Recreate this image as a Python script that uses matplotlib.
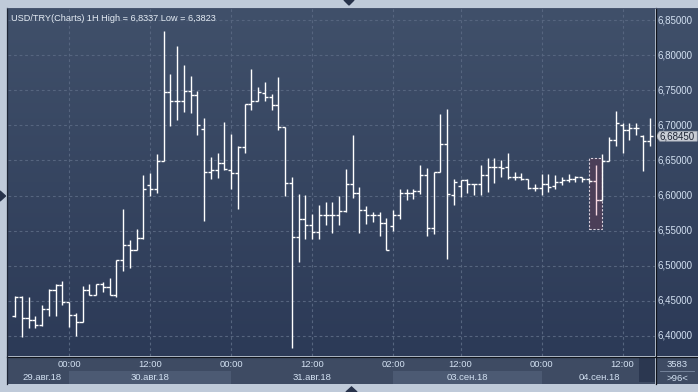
import matplotlib
matplotlib.use('Agg')
import matplotlib.pyplot as plt
import numpy as np
from matplotlib.patches import Rectangle, Polygon
from matplotlib.lines import Line2D

# hourly OHLC bars, USD/TRY
opens = [6.429, 6.456, 6.425, 6.423, 6.415, 6.439, 6.466, 6.473, 6.448, 6.430,
         6.420, 6.466, 6.459, 6.474, 6.470, 6.459, 6.508, 6.530, 6.523, 6.540,
         6.615, 6.610, 6.649, 6.747, 6.735, 6.735, 6.749, 6.743, 6.695, 6.634,
         6.636, 6.647, 6.637, 6.632, 6.669, 6.730, 6.735, 6.746, 6.740, 6.729,
         6.697, 6.618, 6.541, 6.566, 6.558, 6.548, 6.572, 6.572, 6.572, 6.578,
         6.616, 6.603, 6.579, 6.572, 6.573, 6.561, 6.557, 6.573, 6.604, 6.604,
         6.606, 6.629, 6.554, 6.634, 6.674, 6.601, 6.613, 6.622, 6.616, 6.616,
         6.629, 6.641, 6.641, 6.640, 6.626, 6.626, 6.624, 6.611, 6.611, 6.617,
         6.614, 6.619, 6.622, 6.623, 6.626, 6.623, 6.621, 6.593, 6.649, 6.679,
         6.700, 6.693, 6.696, 6.685, 6.677]
highs = [6.457, 6.457, 6.456, 6.428, 6.444, 6.467, 6.474, 6.478, 6.448, 6.433,
         6.471, 6.474, 6.474, 6.477, 6.483, 6.508, 6.581, 6.536, 6.553, 6.629,
         6.632, 6.659, 6.8337, 6.773, 6.813, 6.786, 6.770, 6.749, 6.710, 6.655,
         6.661, 6.705, 6.688, 6.670, 6.731, 6.780, 6.755, 6.762, 6.745, 6.769,
         6.697, 6.627, 6.602, 6.601, 6.574, 6.586, 6.591, 6.591, 6.599, 6.638,
         6.686, 6.612, 6.585, 6.577, 6.577, 6.568, 6.579, 6.610, 6.609, 6.610,
         6.644, 6.639, 6.634, 6.716, 6.723, 6.624, 6.622, 6.624, 6.617, 6.644,
         6.653, 6.654, 6.650, 6.661, 6.633, 6.632, 6.624, 6.616, 6.631, 6.631,
         6.629, 6.627, 6.630, 6.628, 6.627, 6.624, 6.643, 6.659, 6.683, 6.721,
         6.703, 6.704, 6.704, 6.686, 6.710]
lows = [6.427, 6.399, 6.412, 6.412, 6.414, 6.429, 6.429, 6.444, 6.413, 6.400,
        6.420, 6.458, 6.459, 6.463, 6.458, 6.455, 6.492, 6.497, 6.523, 6.538,
        6.600, 6.604, 6.649, 6.699, 6.708, 6.719, 6.717, 6.686, 6.564, 6.624,
        6.625, 6.637, 6.610, 6.581, 6.661, 6.722, 6.734, 6.734, 6.722, 6.693,
        6.600, 6.3823, 6.506, 6.538, 6.538, 6.538, 6.558, 6.547, 6.558, 6.577,
        6.596, 6.547, 6.560, 6.562, 6.543, 6.522, 6.550, 6.567, 6.594, 6.595,
        6.602, 6.542, 6.545, 6.634, 6.510, 6.587, 6.598, 6.603, 6.601, 6.601,
        6.605, 6.618, 6.627, 6.623, 6.622, 6.622, 6.610, 6.607, 6.601, 6.605,
        6.610, 6.615, 6.620, 6.620, 6.620, 6.620, 6.572, 6.593, 6.649, 6.671,
        6.661, 6.679, 6.686, 6.635, 6.671]
closes = [6.456, 6.425, 6.423, 6.415, 6.439, 6.466, 6.473, 6.448, 6.430, 6.420,
          6.466, 6.459, 6.474, 6.470, 6.459, 6.508, 6.530, 6.523, 6.540, 6.610,
          6.610, 6.649, 6.747, 6.735, 6.735, 6.749, 6.743, 6.700, 6.634, 6.636,
          6.647, 6.638, 6.632, 6.669, 6.730, 6.735, 6.747, 6.740, 6.729, 6.697,
          6.618, 6.541, 6.566, 6.558, 6.548, 6.572, 6.572, 6.572, 6.578, 6.616,
          6.603, 6.579, 6.572, 6.573, 6.561, 6.522, 6.573, 6.604, 6.604, 6.606,
          6.629, 6.554, 6.634, 6.674, 6.602, 6.619, 6.622, 6.616, 6.616, 6.629,
          6.641, 6.641, 6.639, 6.626, 6.626, 6.624, 6.611, 6.611, 6.617, 6.612,
          6.619, 6.622, 6.623, 6.626, 6.623, 6.621, 6.593, 6.649, 6.679, 6.704,
          6.693, 6.696, 6.696, 6.677, 6.6845]

selected_bar = 86
price_ticks = [6.40, 6.45, 6.50, 6.55, 6.60, 6.65, 6.70, 6.75, 6.80, 6.85]
time_pos = [8, 20, 32, 44, 56, 66, 78, 90]
time_labels = ['00:00', '12:00', '00:00', '12:00', '02:00', '12:00', '00:00', '12:00']
day_start = [0, 8, 32, 56, 78]
day_labels = ['29.авг.18', '30.авг.18', '31.авг.18', '03.сен.18', '04.сен.18']
title = 'USD/TRY(Charts) 1H High = 6,8337 Low = 6,3823'
last_price = closes[-1]
bar_count = '3583'
visible_bars = '>96<'

W, H = 698, 392
def fx(px):
    return px / W
def fy(py):
    return 1 - py / H

plt.rcParams['font.family'] = ['Liberation Sans', 'DejaVu Sans']
fig = plt.figure(figsize=(W / 100, H / 100), dpi=100)
fig.patch.set_facecolor('#bfcad9')

n = len(opens)
xlim = (-1.04, n - 0.2)
ylim = (6.3715, 6.8671)
txt_col = '#d3e1f2'

grad = np.linspace(0, 1, 256).reshape(-1, 1)
top_c = np.array([64, 80, 106]) / 255
bot_c = np.array([44, 58, 87]) / 255
grad_img = top_c * (1 - grad)[..., None] + bot_c * grad[..., None]

# main plot area
ax = fig.add_axes([fx(8), fy(356), (655 - 8) / W, (356 - 8) / H])
ax.imshow(grad_img, extent=(xlim[0], xlim[1], ylim[0], ylim[1]), aspect='auto', zorder=0)
for p in price_ticks:
    ax.axhline(p, color='#56657f', lw=0.8, ls=(0, (2.5, 2.5)), zorder=1)
for t in time_pos:
    ax.axvline(t, color='#56657f', lw=0.8, ls=(0, (2.5, 2.5)), zorder=1)

x = np.arange(n)
cols = ['white'] * n
cols[selected_bar] = '#f6d6e0'
hl_h, hl_l = highs[selected_bar], lows[selected_bar]
ax.add_patch(Rectangle((selected_bar - 1, hl_l - 0.019), 2, hl_h - hl_l + 0.029,
                       facecolor='#4b3e58', edgecolor='#d8d0dc', lw=0.8, ls=(0, (2, 1.5)), zorder=2))
tk = 0.45
ax.vlines(x, lows, highs, colors=cols, lw=1.0, zorder=3)
ax.hlines(opens, x - tk, x, colors=cols, lw=1.0, zorder=3)
ax.hlines(closes, x, x + tk, colors=cols, lw=1.0, zorder=3)

ax.set_xlim(*xlim)
ax.set_ylim(*ylim)
ax.set_xticks([])
ax.set_yticks([])
for s in ax.spines.values():
    s.set_visible(False)
ax.text(0.004, 0.983, title, transform=ax.transAxes, ha='left', va='top',
        fontsize=6.6, color='#e6edf5', zorder=5)

# right price scale
rp = fig.add_axes([fx(656), fy(356), 42 / W, (356 - 8) / H])
rp.imshow(grad_img, extent=(0, 1, ylim[0], ylim[1]), aspect='auto', zorder=0)
rp.set_xlim(0, 1)
rp.set_ylim(*ylim)
rp.axis('off')
for p in price_ticks:
    rp.text(0.03, p, f'{p:.5f}'.replace('.', ','), ha='left', va='center',
            fontsize=7.0, color=txt_col)
h = 0.0071
rp.add_patch(Polygon([(0.0, last_price), (0.09, last_price + h), (0.98, last_price + h),
                      (0.98, last_price - h), (0.09, last_price - h)], closed=True,
                     facecolor='#c9ced6', edgecolor='#9aa2ae', lw=0.5, zorder=4))
rp.text(0.08, last_price, f'{last_price:.5f}'.replace('.', ','), ha='left', va='center',
        fontsize=7.0, color='#1c2333', zorder=5)

# bottom time scale
bx = fig.add_axes([fx(8), fy(384), (655 - 8) / W, (384 - 357) / H])
bx.set_facecolor('#3e4b63')
bx.set_xlim(*xlim)
bx.set_ylim(0, 1)
bx.set_xticks([])
bx.set_yticks([])
for s in bx.spines.values():
    s.set_visible(False)
ends = day_start[1:] + [n]
for k, (a, b) in enumerate(zip(day_start, ends)):
    if k % 2 == 1:
        bx.add_patch(Rectangle((a, 0.0), b - a, 0.5, facecolor='#4c5a73', edgecolor='none'))
    bx.text((a + b) / 2, 0.24, day_labels[k], ha='center', va='center',
            fontsize=6.8, color=txt_col)
for t, lab in zip(time_pos, time_labels):
    bx.text(t, 0.72, lab, ha='center', va='center', fontsize=6.8, color=txt_col)
bx.add_patch(Rectangle((n - 2.6, 0.06), 2.6, 0.9, facecolor='#2b3750', edgecolor='none'))

# bottom right counter box
cb = fig.add_axes([fx(656), fy(384), 42 / W, (384 - 357) / H])
cb.set_facecolor('#3e4b63')
cb.set_xlim(0, 1)
cb.set_ylim(0, 1)
cb.set_xticks([])
cb.set_yticks([])
for s in cb.spines.values():
    s.set_visible(False)
cb.text(0.5, 0.72, bar_count, ha='center', va='center', fontsize=6.8, color=txt_col)
cb.text(0.5, 0.22, visible_bars, ha='center', va='center', fontsize=6.8, color=txt_col)
cb.plot([0.1, 0.9], [0.47, 0.47], color='#7d8ba3', lw=0.6)

# separators and frame marks
dark = '#10141c'
fig.add_artist(Line2D([fx(655.5), fx(655.5)], [fy(8), fy(384)], color=dark, lw=0.9))
fig.add_artist(Line2D([fx(7.5), fx(698)], [fy(356.5), fy(356.5)], color=dark, lw=0.9))
fig.add_artist(Line2D([fx(7.5), fx(7.5)], [fy(8), fy(384)], color='#1e2636', lw=0.9))
fig.add_artist(Line2D([fx(7.5), fx(698)], [fy(7.8), fy(7.8)], color='#4a5670', lw=0.6))
tri = '#27324a'
fig.add_artist(Polygon([(fx(344), fy(0)), (fx(354), fy(0)), (fx(349), fy(5))],
                       closed=True, transform=fig.transFigure, color=tri))
fig.add_artist(Polygon([(fx(0), fy(191)), (fx(0), fy(201)), (fx(5.5), fy(196))],
                       closed=True, transform=fig.transFigure, color=tri))
fig.add_artist(Polygon([(fx(346), fy(392)), (fx(357), fy(392)), (fx(351.5), fy(387))],
                       closed=True, transform=fig.transFigure, color=tri))

fig.savefig('out.png', dpi=100, facecolor=fig.get_facecolor())
